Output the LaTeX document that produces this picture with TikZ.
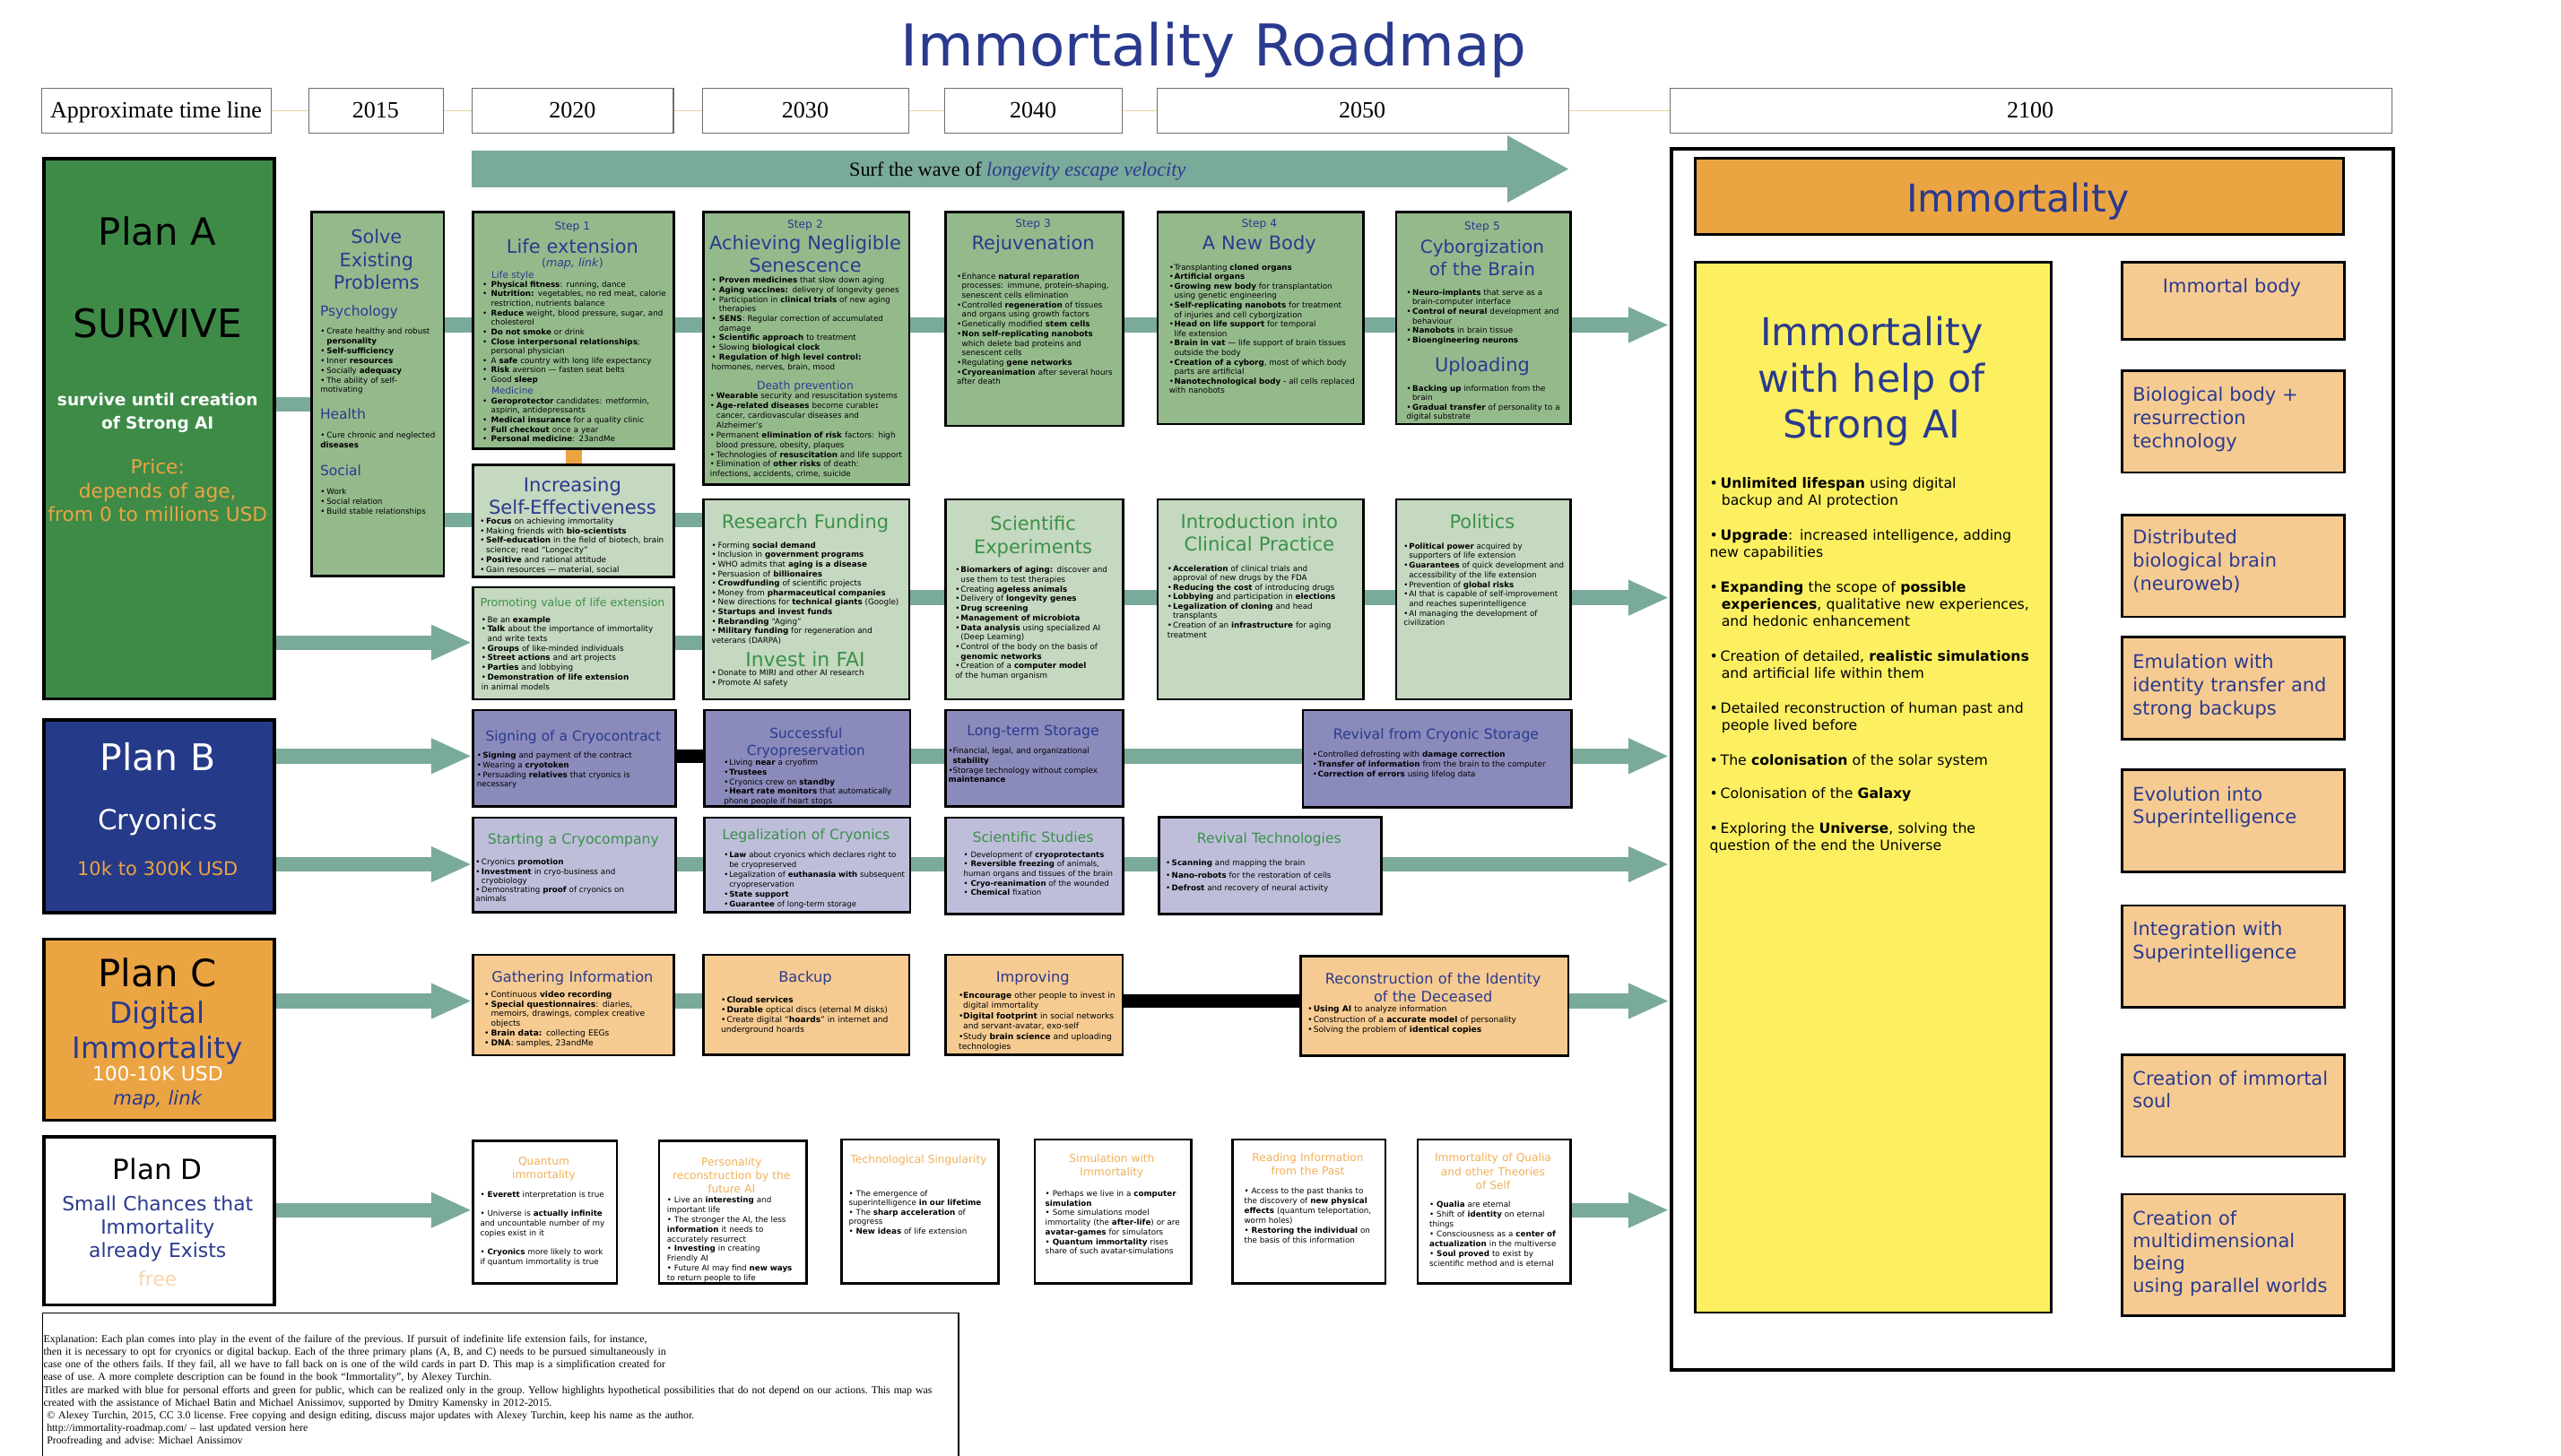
\documentclass[tikz,border=0pt]{standalone}
\usepackage{fontspec}
\setmainfont{DejaVu Sans}
\newfontfamily\timesf{Liberation Serif}
\usetikzlibrary{arrows.meta,backgrounds}
\definecolor{bluet}{RGB}{42,58,142}
\definecolor{greent}{RGB}{58,145,72}
\definecolor{planA}{RGB}{62,139,72}
\definecolor{midg}{RGB}{148,186,140}
\definecolor{lightg}{RGB}{197,216,192}
\definecolor{tealc}{RGB}{122,170,154}
\definecolor{orng}{RGB}{235,164,66}
\definecolor{planB}{RGB}{38,58,138}
\definecolor{purp1}{RGB}{138,138,187}
\definecolor{purp2}{RGB}{190,190,219}
\definecolor{peach}{RGB}{246,203,146}
\definecolor{yell}{RGB}{252,240,96}
\definecolor{orT}{RGB}{240,176,88}
\definecolor{freec}{RGB}{248,214,170}
\definecolor{tanl}{RGB}{232,212,164}
\definecolor{tlgray}{RGB}{110,110,110}
\newcommand\fsz[2]{\fontsize{#1}{#2}\selectfont}
\newcommand\nln{\newline}
\newcommand\bulg{\textbullet}
\newcommand\bwf{1.05}
\newcommand\bfirst{\noindent\hangindent=\bwf em\hangafter=1\makebox[\bwf em][l]{\bulg}}
\newcommand\bitem{\par\noindent\hangindent=\bwf em\hangafter=1\makebox[\bwf em][l]{\bulg}}
\newcommand\ybul{\makebox[0.78em][l]{\textbullet}}
\newcommand\yind{\hspace*{0.85em}}
\newcommand\mkbox[7][]{\node[box,fill=#3,anchor=north west,minimum width={#6-#4},minimum height={#7-#5},#1] (#2) at (#4,#5) {};}
\newcommand\txn[5][]{\node[anchor=base west,inner sep=0,text width=#4pt,align=left,font=\fsz{4.8}{5.87},#1] (#2) at (#3) {#5};}
\newcommand\ctn[5][]{\node[anchor=base,inner sep=0,text width=#4pt,align=center,#1] (#2) at (#3) {#5};}
\tikzset{
 box/.style={draw=black,line width=1.5pt,inner sep=0},
 conn/.style={draw=tealc,line width=9pt},
 arr/.style={conn,-{Triangle[length=25pt,width=20pt]}},
 blk/.style={draw=black,line width=8.5pt},
 tlbox/.style={draw=tlgray,line width=0.6pt,fill=white,inner sep=0,anchor=north west,minimum height=27},
 tltext/.style={anchor=base,inner sep=0,font=\timesf\fsz{14.3}{16}},
}
\begin{document}
\begin{tikzpicture}[x=1pt,y=-1pt]
\useasboundingbox (0,0) rectangle (1568,891.6);
% title
\node[anchor=base,inner sep=0,font=\fsz{35.3}{40},text=bluet] (title) at (743,40.5) {Immortality Roadmap};
% timeline
\node[tlbox,minimum width=141] (tl0) at (25,54) {};
\node[tlbox,minimum width=82] (t15) at (189,54) {};
\node[tlbox,minimum width=123] (t20) at (289,54) {};
\node[tlbox,minimum width=126] (t30) at (430,54) {};
\node[tlbox,minimum width=109] (t40) at (578,54) {};
\node[tlbox,minimum width=252] (t50) at (708,54) {};
\node[tlbox,minimum width=442] (t2100) at (1022,54) {};
\node[tltext] (tl0t) at (95.5,72.2) {Approximate time line};
\node[tltext] (t15t) at (230,72.2) {2015};
\node[tltext] (t20t) at (350.5,72.2) {2020};
\node[tltext] (t30t) at (493,72.2) {2030};
\node[tltext] (t40t) at (632.5,72.2) {2040};
\node[tltext] (t50t) at (834,72.2) {2050};
\node[tltext] (t2100t) at (1243,72.2) {2100};
% surf arrow
\coordinate (surfA) at (289,103.5);
\coordinate (surfB) at (961,103.5);
\draw[tealc,line width=22pt,-{Triangle[length=38pt,width=38pt]}] (surfA) -- (surfB);
\node[anchor=base,inner sep=0,font=\timesf\fsz{12.2}{14}] (surft) at (623,108) {Surf the wave of \textcolor{bluet}{\itshape longevity escape velocity}};

% ================= PLAN A
\mkbox[line width=2pt]{pA}{planA}{26}{96}{167}{427}
\ctn[font=\fsz{23}{26}]{pA1}{96.5,150.3}{140}{Plan A}
\ctn[font=\fsz{24}{28}]{pA2}{96.5,206.7}{140}{SURVIVE}
\ctn[font=\bfseries\fsz{10.2}{14},text=white]{pA3}{96.5,248.7}{140}{survive until creation\\of Strong AI}
\ctn[font=\fsz{11.9}{14.5},text=orng]{pA4}{96.5,290.3}{140}{Price:\\depends of age,\\from 0 to millions USD}

\mkbox{solve}{midg}{190}{129}{271}{352}
\ctn[font=\fsz{11.4}{14},text=bluet]{solveT}{230.5,149.1}{80}{Solve\\Existing\\Problems}
\txn[font=\fsz{8.5}{10},text=bluet]{psyT}{195.8,193.7}{75}{Psychology}
\txn[font=\fsz{4.8}{5.96}]{psyB}{196,204.7}{76}{\def\bwf{0.8}\bfirst Create healthy and robust\nln\textbf{personality}\bitem\textbf{Self-sufficiency}\bitem Inner \textbf{resources}\bitem Socially \textbf{adequacy}\bitem The ability of self-\nln motivating}
\txn[font=\fsz{8.5}{10},text=bluet]{hlT}{195.8,256.9}{75}{Health}
\txn[font=\fsz{4.8}{5.96}]{hlB}{196,268.4}{76}{\def\bwf{0.8}\bfirst Cure chronic and neglected\nln\textbf{diseases}}
\txn[font=\fsz{8.5}{10},text=bluet]{soT}{195.8,291.1}{75}{Social}
\txn[font=\fsz{4.8}{6.05}]{soB}{196,302.6}{76}{\def\bwf{0.8}\bfirst Work\bitem Social relation\bitem Build stable relationships}

\mkbox{s1}{midg}{289}{129}{412}{274}
\ctn[font=\fsz{6.7}{8},text=bluet]{s1a}{350.5,140.6}{120}{Step 1}
\ctn[font=\fsz{11.5}{13},text=bluet]{s1b}{350.5,155.1}{120}{Life extension}
\ctn[font=\fsz{6.9}{8},text=bluet]{s1c}{350.5,163.3}{120}{(\textit{map, link})}
\txn[font=\fsz{5.75}{7},text=bluet]{s1d}{300.7,170.3}{100}{Life style}
\txn[font=\fsz{4.8}{5.84}]{s1e}{295.2,175.8}{118}{\def\bwf{1.1}\bfirst\textbf{Physical fitness}: running, dance\bitem\textbf{Nutrition:} vegetables, no red meat, calorie\nln restriction, nutrients balance\bitem\textbf{Reduce} weight, blood pressure, sugar, and\nln cholesterol\bitem\textbf{Do not smoke} or drink\bitem\textbf{Close interpersonal relationships};\nln personal physician\bitem A \textbf{safe} country with long life expectancy\bitem\textbf{Risk} aversion — fasten seat belts\bitem Good \textbf{sleep}}
\txn[font=\fsz{5.75}{7},text=bluet]{s1f}{300.7,241.3}{100}{Medicine}
\txn[font=\fsz{4.8}{5.84}]{s1g}{295.2,247.2}{118}{\def\bwf{1.1}\bfirst\textbf{Geroprotector} candidates: metformin,\nln aspirin, antidepressants\bitem\textbf{Medical insurance} for a quality clinic\bitem\textbf{Full checkout} once a year\bitem\textbf{Personal medicine}: 23andMe}

\mkbox{ise}{lightg}{289}{284}{412}{352.5}
\ctn[font=\fsz{11.6}{13.8},text=bluet]{iseT}{350.5,301.2}{120}{Increasing\\Self-Effectiveness}
\txn[font=\fsz{4.85}{5.88}]{iseB}{293.7,320.9}{120}{\def\bwf{0.76}\bfirst\textbf{Focus} on achieving immortality\bitem Making friends with \textbf{bio-scientists}\bitem\textbf{Self-education} in the field of biotech, brain\nln science; read “Longecity”\bitem\textbf{Positive} and rational attitude\bitem Gain resources — material, social}

\mkbox{prom}{lightg}{289}{358.8}{412}{427.5}
\ctn[font=\fsz{6.83}{8},text=greent]{promT}{350.5,371.5}{122}{Promoting value of life extension}
\txn[font=\fsz{4.85}{5.88}]{promB}{294.6,381.1}{118}{\def\bwf{0.75}\bfirst Be an \textbf{example}\bitem\textbf{Talk} about the importance of immortality\nln and write texts\bitem\textbf{Groups} of like-minded individuals\bitem\textbf{Street actions} and art projects\bitem\textbf{Parties} and lobbying\bitem\textbf{Demonstration of life extension}\nln in animal models}

\mkbox{s2}{midg}{430}{129}{556}{296}
\ctn[font=\fsz{6.7}{8},text=bluet]{s2a}{493,139.7}{124}{Step 2}
\ctn[font=\fsz{11.5}{13.7},text=bluet]{s2b}{493,153.1}{124}{Achieving Negligible\\Senescence}
\txn[font=\fsz{4.8}{5.88}]{s2c}{435.5,173.3}{120}{\def\bwf{0.95}\bfirst\textbf{Proven medicines} that slow down aging\bitem\textbf{Aging vaccines:} delivery of longevity genes\bitem Participation in \textbf{clinical trials} of new aging\nln therapies\bitem\textbf{SENS}: Regular correction of accumulated\nln damage\bitem\textbf{Scientific approach} to treatment\bitem Slowing \textbf{biological clock}\bitem\textbf{Regulation of high level control:}\nln hormones, nerves, brain, mood}
\ctn[font=\fsz{6.75}{8},text=bluet]{s2d}{493,238.7}{124}{Death prevention}
\txn[font=\fsz{4.8}{5.96}]{s2e}{434.6,244.3}{122}{\def\bwf{0.8}\bfirst\textbf{Wearable} security and resuscitation systems\bitem\textbf{Age-related diseases} become curable\textbf{:}\nln cancer, cardiovascular diseases and\nln Alzheimer’s\bitem Permanent \textbf{elimination of risk} factors: high\nln blood pressure, obesity, plaques\bitem Technologies of \textbf{resuscitation} and life support\bitem Elimination of \textbf{other risks} of death:\nln infections, accidents, crime, suicide}

\mkbox{rf}{lightg}{430}{305}{556}{427.5}
\ctn[font=\fsz{11.5}{13},text=greent]{rfT}{493,323.8}{124}{Research Funding}
\txn[font=\fsz{4.8}{5.84}]{rfB}{435.5,335.5}{120}{\def\bwf{0.8}\bfirst Forming \textbf{social demand}\bitem Inclusion in \textbf{government programs}\bitem WHO admits that \textbf{aging is a disease}\bitem Persuasion of \textbf{billionaires}\bitem\textbf{Crowdfunding} of scientific projects\bitem Money from \textbf{pharmaceutical companies}\bitem New directions for \textbf{technical giants} (Google)\bitem\textbf{Startups and invest funds}\bitem\textbf{Rebranding} “Aging”\bitem\textbf{Military funding} for regeneration and\nln veterans (DARPA)}
\ctn[font=\fsz{12}{13},text=greent]{rfI}{493,408.3}{124}{Invest in FAI}
\txn[font=\fsz{4.8}{5.84}]{rfJ}{435.5,413.9}{120}{\def\bwf{0.8}\bfirst Donate to MIRI and other AI research\bitem Promote AI safety}

\mkbox{s3}{midg}{578}{129}{687}{260}
\ctn[font=\fsz{6.7}{8},text=bluet]{s3a}{632.5,139.3}{108}{Step 3}
\ctn[font=\fsz{11.5}{13},text=bluet]{s3b}{632.5,153.1}{108}{Rejuvenation}
\txn[font=\fsz{4.8}{5.88}]{s3c}{585.6,170.8}{104}{\def\bwf{0.65}\bfirst Enhance \textbf{natural reparation}\nln processes: immune, protein-shaping,\nln senescent cells elimination\bitem Controlled \textbf{regeneration} of tissues\nln and organs using growth factors\bitem Genetically modified \textbf{stem cells}\bitem\textbf{Non self-replicating nanobots}\nln which delete bad proteins and\nln senescent cells\bitem Regulating \textbf{gene networks}\bitem\textbf{Cryoreanimation} after several hours\nln after death}

\mkbox{s4}{midg}{708}{129}{834}{259}
\ctn[font=\fsz{6.7}{8},text=bluet]{s4a}{771,139.3}{124}{Step 4}
\ctn[font=\fsz{11.5}{13},text=bluet]{s4b}{771,153.1}{124}{A New Body}
\txn[font=\fsz{4.8}{5.82}]{s4c}{715.6,165.3}{120}{\def\bwf{0.67}\bfirst Transplanting \textbf{cloned organs}\bitem\textbf{Artificial organs}\bitem\textbf{Growing new body} for transplantation\nln using genetic engineering\bitem\textbf{Self-replicating nanobots} for treatment\nln of injuries and cell cyborgization\bitem\textbf{Head on life support} for temporal\nln life extension\bitem\textbf{Brain in vat} — life support of brain tissues\nln outside the body\bitem\textbf{Creation of a cyborg}, most of which body\nln parts are artificial\bitem\textbf{Nanotechnological body} - all cells replaced\nln with nanobots}

\mkbox{se}{lightg}{578}{305}{687}{427.5}
\ctn[font=\fsz{11.5}{14.4},text=greent]{seT}{632.5,324.7}{108}{Scientific\\Experiments}
\txn[font=\fsz{4.8}{5.88}]{seB}{584.7,350.7}{104}{\def\bwf{0.7}\bfirst\textbf{Biomarkers of aging:} discover and\nln use them to test therapies\bitem Creating \textbf{ageless animals}\bitem Delivery of \textbf{longevity genes}\bitem\textbf{Drug screening}\bitem\textbf{Management of microbiota}\bitem\textbf{Data analysis} using specialized AI\nln (Deep Learning)\bitem Control of the body on the basis of\nln\textbf{genomic networks}\bitem Creation of a \textbf{computer model}\nln of the human organism}

\mkbox{ic}{lightg}{708}{305}{834}{427.5}
\ctn[font=\fsz{11.6}{13.8},text=greent]{icT}{771,323.8}{124}{Introduction into\\Clinical Practice}
\txn[font=\fsz{4.8}{5.8}]{icB}{714.6,349.8}{120}{\def\bwf{0.7}\bfirst\textbf{Acceleration} of clinical trials and\nln approval of new drugs by the FDA\bitem\textbf{Reducing the cost} of introducing drugs\bitem\textbf{Lobbying} and participation in \textbf{elections}\bitem\textbf{Legalization of cloning} and head\nln transplants\bitem Creation of an \textbf{infrastructure} for aging\nln treatment}

\mkbox{s5}{midg}{854}{129}{961}{259}
\ctn[font=\fsz{6.7}{8},text=bluet]{s5a}{907.5,141}{106}{Step 5}
\ctn[font=\fsz{11}{14},text=bluet]{s5b}{907.5,155}{106}{Cyborgization\\of the Brain}
\txn[font=\fsz{4.8}{5.84}]{s5c}{861,180.7}{100}{\def\bwf{0.75}\bfirst\textbf{Neuro-implants} that serve as a\nln brain-computer interface\bitem\textbf{Control of neural} development and\nln behaviour\bitem\textbf{Nanobots} in brain tissue\bitem\textbf{Bioengineering neurons}}
\ctn[font=\fsz{11.5}{13},text=bluet]{s5d}{907.5,227.6}{106}{Uploading}
\txn[font=\fsz{4.8}{5.84}]{s5e}{861,239.4}{100}{\def\bwf{0.75}\bfirst\textbf{Backing up} information from the\nln brain\bitem\textbf{Gradual transfer} of personality to a\nln digital substrate}

\mkbox{pol}{lightg}{854}{305}{961}{427.5}
\ctn[font=\fsz{11.5}{13},text=greent]{polT}{907.5,323.7}{106}{Politics}
\txn[font=\fsz{4.75}{5.88}]{polB}{859.2,336.1}{102}{\def\bwf{0.7}\bfirst\textbf{Political power} acquired by\nln supporters of life extension\bitem\textbf{Guarantees} of quick development and\nln accessibility of the life extension\bitem Prevention of \textbf{global risks}\bitem AI that is capable of self-improvement\nln and reaches superintelligence\bitem AI managing the development of\nln civilization}

% ================= PLAN B
\mkbox[line width=2pt]{pB}{planB}{26}{440}{167}{558}
\ctn[font=\fsz{22.5}{26},text=white]{pB1}{96.5,472}{140}{Plan B}
\ctn[font=\fsz{17}{20},text=white]{pB2}{96.5,508.2}{140}{Cryonics}
\ctn[font=\fsz{11.5}{14},text=orng]{pB3}{96.5,536.2}{140}{10k to 300K USD}

\mkbox{sig}{purp1}{289}{434}{413}{493}
\ctn[font=\fsz{8.4}{10.6},text=bluet]{sigT}{351,454}{124}{Signing of a Cryocontract}
\txn[font=\fsz{4.8}{5.86}]{sigB}{291.8,464.3}{120}{\def\bwf{0.75}\bfirst\textbf{Signing} and payment of the contract\bitem Wearing a \textbf{cryotoken}\bitem Persuading \textbf{relatives} that cryonics is\nln necessary}

\mkbox{suc}{purp1}{430.5}{434}{556.5}{493}
\ctn[font=\fsz{8.4}{10.6},text=bluet]{sucT}{493.5,452}{124}{Successful\\Cryopreservation}
\txn[font=\fsz{4.8}{5.86}]{sucB}{443,468.7}{112}{\def\bwf{0.7}\bfirst Living \textbf{near} a cryofirm\bitem\textbf{Trustees}\bitem Cryonics crew on \textbf{standby}\bitem\textbf{Heart rate monitors} that automatically\nln phone people if heart stops}

\mkbox{lts}{purp1}{578}{434}{687}{493}
\ctn[font=\fsz{8.6}{10.6},text=bluet]{ltsT}{632.5,450.6}{108}{Long-term Storage}
\txn[font=\fsz{4.8}{5.8}]{ltsB}{580.5,461.7}{106}{\def\bwf{0.55}\bfirst Financial, legal, and organizational\nln\textbf{stability}\bitem Storage technology without complex\nln\textbf{maintenance}}

\mkbox{rcs}{purp1}{797}{434}{961.5}{493.6}
\ctn[font=\fsz{8.6}{10.6},text=bluet]{rcsT}{879.25,452.9}{160}{Revival from Cryonic Storage}
\txn[font=\fsz{4.8}{5.95}]{rcsB}{803.5,463.8}{155}{\def\bwf{0.65}\bfirst Controlled defrosting with \textbf{damage correction}\bitem\textbf{Transfer of information} from the brain to the computer\bitem\textbf{Correction of errors} using lifelog data}

\mkbox{stc}{purp2}{289}{500}{413}{558}
\ctn[font=\fsz{8.6}{10.6},text=greent]{stcT}{351,517.1}{124}{Starting a Cryocompany}
\txn[font=\fsz{4.8}{5.63}]{stcB}{291,529.7}{120}{\def\bwf{0.75}\bfirst Cryonics \textbf{promotion}\bitem\textbf{Investment} in cryo-business and\nln cryobiology\bitem Demonstrating \textbf{proof} of cryonics on\nln animals}

\mkbox{leg}{purp2}{430.5}{500}{556.5}{558}
\ctn[font=\fsz{8.6}{10.6},text=greent]{legT}{493.5,514.1}{124}{Legalization of Cryonics}
\txn[font=\fsz{4.7}{6.0}]{legB}{443,525.1}{112}{\def\bwf{0.7}\bfirst\textbf{Law} about cryonics which declares right to\nln be cryopreserved\bitem Legalization of \textbf{euthanasia with} subsequent\nln cryopreservation\bitem\textbf{State support}\bitem\textbf{Guarantee} of long-term storage}

\mkbox{ss}{purp2}{578}{500}{687}{559}
\ctn[font=\fsz{8.6}{10.6},text=greent]{ssT}{632.5,515.6}{108}{Scientific Studies}
\txn[font=\fsz{4.7}{5.86}]{ssB}{589.8,524.9}{96}{\textbullet\ Development of \textbf{cryoprotectants}\\\textbullet\ \textbf{Reversible freezing} of animals,\\human organs and tissues of the brain\\\textbullet\ \textbf{Cryo-reanimation} of the wounded\\\textbullet\ \textbf{Chemical} fixation}

\mkbox{rt}{purp2}{709}{499.6}{845}{559}
\ctn[font=\fsz{8.5}{10.6},text=greent]{rtT}{777,516.4}{134}{Revival Technologies}
\txn[font=\fsz{4.8}{7.6}]{rtB}{713.6,530.2}{130}{\def\bwf{0.75}\bfirst\textbf{Scanning} and mapping the brain\bitem\textbf{Nano-robots} for the restoration of cells\bitem\textbf{Defrost} and recovery of neural activity}

% ================= PLAN C
\mkbox[line width=2pt]{pC}{orng}{26}{574}{167}{685}
\ctn[font=\fsz{23}{26}]{pC1}{96.5,604.3}{140}{Plan C}
\ctn[font=\fsz{18}{21.4},text=bluet]{pC2}{96.5,626.8}{140}{Digital\\Immortality}
\ctn[font=\fsz{12}{14},text=white]{pC3}{96.5,661.8}{140}{100-10K USD}
\ctn[font=\itshape\fsz{11.7}{14},text=bluet]{pC4}{96.5,676.6}{140}{map, link}

\mkbox{gi}{peach}{289}{584}{412}{645.5}
\ctn[font=\fsz{8.9}{10.6},text=bluet]{giT}{350.5,601.2}{122}{Gathering Information}
\txn[font=\fsz{5}{5.96}]{giB}{296.4,610.6}{115}{\def\bwf{0.8}\bfirst Continuous \textbf{video recording}\bitem\textbf{Special questionnaires}: diaries,\nln memoirs, drawings, complex creative\nln objects\bitem\textbf{Brain data:} collecting EEGs\bitem\textbf{DNA}: samples, 23andMe}

\mkbox{bk}{peach}{430}{584}{556}{645}
\ctn[font=\fsz{8.9}{10.6},text=bluet]{bkT}{493,601.2}{124}{Backup}
\txn[font=\fsz{5}{6.04}]{bkB}{441.3,613.8}{112}{\def\bwf{0.7}\bfirst\textbf{Cloud services}\bitem\textbf{Durable} optical discs (eternal M disks)\bitem Create digital “\textbf{hoards}” in internet and\nln underground hoards}

\mkbox{imp}{peach}{578}{584}{686.6}{645}
\ctn[font=\fsz{8.9}{10.6},text=bluet]{impT}{632.3,601.2}{108}{Improving}
\txn[font=\fsz{5}{6.23}]{impB}{586.8,611.4}{100}{\def\bwf{0.55}\bfirst\textbf{Encourage} other people to invest in\nln digital immortality\bitem\textbf{Digital footprint} in social networks\nln and servant-avatar, exo-self\bitem Study \textbf{brain science} and uploading\nln technologies}

\mkbox{rec}{peach}{795.4}{584.7}{959.4}{645.6}
\ctn[font=\fsz{8.85}{11.1},text=bluet]{recT}{877.4,602.5}{160}{Reconstruction of the Identity\\of the Deceased}
\txn[font=\fsz{5}{6.33}]{recB}{800.5,619.8}{155}{\def\bwf{0.7}\bfirst\textbf{Using AI} to analyze information\bitem Construction of a \textbf{accurate model} of personality\bitem Solving the problem of \textbf{identical copies}}

% ================= PLAN D
\mkbox[line width=2pt]{pD}{white}{26}{695}{167}{798}
\ctn[font=\fsz{17}{20}]{pD1}{96.5,722.3}{140}{Plan D}
\ctn[font=\fsz{12}{14.2},text=bluet]{pD2}{96.5,741.5}{140}{Small Chances that\\Immortality\\already Exists}
\ctn[font=\fsz{12}{14},text=freec]{pD3}{96.5,787.3}{140}{free}

\mkbox{qi}{white}{289}{698}{377}{785}
\ctn[font=\fsz{6.7}{8.3},text=orT]{qiT}{333,713.4}{86}{Quantum\\immortality}
\txn[font=\fsz{4.8}{5.85}]{qiB}{293.8,733.3}{84}{\textbullet\ \textbf{Everett} interpretation is true\\[5.85pt]\textbullet\ Universe is \textbf{actually infinite}\\and uncountable number of my\\copies exist in it\\[5.85pt]\textbullet\ \textbf{Cryonics} more likely to work\\if quantum immortality is true}

\mkbox{pr}{white}{402.8}{698}{493}{785}
\ctn[font=\fsz{6.7}{8.35},text=orT]{prT}{447.9,713.9}{88}{Personality\\reconstruction by the\\future AI}
\txn[font=\fsz{4.8}{5.96}]{prB}{408.2,736.6}{84}{\textbullet\ Live an \textbf{interesting} and\\important life\\\textbullet\ The stronger the AI, the less\\\textbf{information} it needs to\\accurately resurrect\\\textbullet\ \textbf{Investing} in creating\\Friendly AI\\\textbullet\ Future AI may find \textbf{new ways}\\to return people to life}

\mkbox{ts}{white}{514.5}{697}{610.5}{785}
\ctn[font=\fsz{6.7}{8.4},text=orT]{tsT}{562.5,712.2}{94}{Technological Singularity}
\txn[font=\fsz{4.8}{5.77}]{tsB}{519.5,732.6}{90}{\textbullet\ The emergence of\\superintelligence \textbf{in our lifetime}\\\textbullet\ The \textbf{sharp acceleration} of\\progress\\\textbullet\ \textbf{New ideas} of life extension}

\mkbox{sim}{white}{632.8}{697}{728.7}{785}
\ctn[font=\fsz{6.7}{8.4},text=orT]{simT}{680.75,711.9}{94}{Simulation with\\Immortality}
\txn[font=\fsz{4.8}{5.9}]{simB}{639.8,732.6}{88}{\textbullet\ Perhaps we live in a \textbf{computer}\\\textbf{simulation}\\\textbullet\ Some simulations model\\immortality (the \textbf{after-life}) or are\\\textbf{avatar-games} for simulators\\\textbullet\ \textbf{Quantum immortality} rises\\share of such avatar-simulations}

\mkbox{rd}{white}{754}{697}{847.5}{785}
\ctn[font=\fsz{6.7}{8.2},text=orT]{rdT}{800.75,711.4}{92}{Reading Information\\from the Past}
\txn[font=\fsz{4.8}{5.96}]{rdB}{761.6,731.2}{86}{\textbullet\ Access to the past thanks to\\the discovery of \textbf{new physical}\\\textbf{effects} (quantum teleportation,\\worm holes)\\\textbullet\ \textbf{Restoring the individual} on\\the basis of this information}

\mkbox{ql}{white}{867.3}{697}{960.9}{785}
\ctn[font=\fsz{6.7}{8.5},text=orT]{qlT}{914.1,711.4}{92}{Immortality of Qualia\\and other Theories\\of Self}
\txn[font=\fsz{4.8}{6.0}]{qlB}{875,739.4}{84}{\textbullet\ \textbf{Qualia} are eternal\\\textbullet\ Shift of \textbf{identity} on eternal\\things\\\textbullet\ Consciousness as a \textbf{center of}\\\textbf{actualization} in the multiverse\\\textbullet\ \textbf{Soul proved} to exist by\\scientific method and is eternal}

% ================= IMMORTALITY
\mkbox[line width=2.2pt]{imm}{white}{1022}{90}{1464}{838}
\mkbox{immT}{orng}{1037}{96}{1434}{143}
\ctn[font=\fsz{23.5}{26},text=bluet]{immTt}{1235.5,130}{390}{Immortality}
\mkbox{yel}{yell}{1037}{160}{1255}{803}
\ctn[font=\fsz{23.5}{28.3},text=bluet]{yelT}{1146,211.8}{215}{Immortality\\with help of\\Strong AI}
\txn[font=\fsz{8.6}{10.6}]{yelB}{1046.5,298.9}{205}{\ybul\textbf{Unlimited lifespan} using digital\\
\yind backup and AI protection\\[10.6pt]
\ybul\textbf{Upgrade}: increased intelligence, adding\\
new capabilities\\[10.6pt]
\ybul\textbf{Expanding} the scope of \textbf{possible}\\
\yind\textbf{experiences}, qualitative new experiences,\\
\yind and hedonic enhancement\\[10.6pt]
\ybul Creation of detailed, \textbf{realistic simulations}\\
\yind and artificial life within them\\[10.6pt]
\ybul Detailed reconstruction of human past and\\
\yind people lived before\\[10.6pt]
\ybul The \textbf{colonisation} of the solar system\\[10pt]
\ybul Colonisation of the \textbf{Galaxy}\\[10.6pt]
\ybul Exploring the \textbf{Universe}, solving the\\
question of the end the Universe}

\mkbox{rb1}{peach}{1298.5}{159.9}{1434.5}{207}
\mkbox{rb2}{peach}{1298.5}{226.2}{1434.5}{288.6}
\mkbox{rb3}{peach}{1298.5}{314.6}{1434.5}{377}
\mkbox{rb4}{peach}{1298.5}{389.5}{1434.5}{452}
\mkbox{rb5}{peach}{1298.5}{470.7}{1434.5}{533}
\mkbox{rb6}{peach}{1298.5}{553.8}{1434.5}{616.2}
\mkbox{rb7}{peach}{1298.5}{645}{1434.5}{707.5}
\mkbox{rb8}{peach}{1298.5}{730.5}{1434.5}{805}
\ctn[font=\fsz{11.5}{14.3},text=bluet]{rb1t}{1366.5,179.4}{134}{Immortal body}
\txn[font=\fsz{11.5}{14.3},text=bluet]{rb2t}{1305.6,245.7}{130}{Biological body +\\resurrection\\technology}
\txn[font=\fsz{11.5}{14.2},text=bluet]{rb3t}{1305.6,333.1}{130}{Distributed\\biological brain\\(neuroweb)}
\txn[font=\fsz{11.5}{14.2},text=bluet]{rb4t}{1305.6,409.4}{130}{Emulation with\\identity transfer and\\strong backups}
\txn[font=\fsz{11.5}{13.6},text=bluet]{rb5t}{1305.6,490.7}{130}{Evolution into\\Superintelligence}
\txn[font=\fsz{11.5}{14},text=bluet]{rb6t}{1305.6,573.1}{130}{Integration with\\Superintelligence}
\txn[font=\fsz{11.5}{13.8},text=bluet]{rb7t}{1305.6,664.6}{130}{Creation of immortal\\soul}
\txn[font=\fsz{11.5}{13.8},text=bluet]{rb8t}{1305.6,750}{130}{Creation of\\multidimensional\\being\\using parallel worlds}

% ================= EXPLANATION
\draw[line width=0.8pt] (26,892) -- (26,804) -- (587,804) -- (587,892);
\txn[font=\timesf\fsz{6.5}{7.8}\frenchspacing]{expl}{26.5,822}{600}{Explanation: Each plan comes into play in the event of the failure of the previous. If pursuit of indefinite life extension fails, for instance,\\
then it is necessary to opt for cryonics or digital backup. Each of the three primary plans (A, B, and C) needs to be pursued simultaneously in\\
case one of the others fails. If they fail, all we have to fall back on is one of the wild cards in part D. This map is a simplification created for\\
ease of use. A more complete description can be found in the book “Immortality”, by Alexey Turchin.\\
Titles are marked with blue for personal efforts and green for public, which can be realized only in the group. Yellow highlights hypothetical possibilities that do not depend on our actions. This map was\\
created with the assistance of Michael Batin and Michael Anissimov, supported by Dmitry Kamensky in 2012-2015.\\
\hspace*{2pt}© Alexey Turchin, 2015, CC 3.0 license. Free copying and design editing, discuss major updates with Alexey Turchin, keep his name as the author.\\
\hspace*{2pt}http://immortality-roadmap.com/ – last updated version here\\
\hspace*{2pt}Proofreading and advise: Michael Anissimov}

% ================= CONNECTORS
\coordinate (ya0) at (0,247.5);
\coordinate (ya1) at (0,199);
\coordinate (ya2) at (0,318.5);
\coordinate (ya3) at (0,393.5);
\coordinate (ya4) at (0,366);
\coordinate (yb1) at (0,463);
\coordinate (yb2) at (0,529.3);
\coordinate (yc1) at (0,613);
\coordinate (yd1) at (0,741);
\begin{pgfonlayer}{background}
\draw[tanl,line width=0.8pt] (tl0.east) -- (t2100.west);
\draw[conn] (pA.east |- ya0) -- (solve.west |- ya0);
\draw[conn] (solve.east |- ya1) -- (s1.west |- ya1);
\draw[conn] (s1.east |- ya1) -- (s2.west |- ya1);
\draw[conn] (s2.east |- ya1) -- (s3.west |- ya1);
\draw[conn] (s3.east |- ya1) -- (s4.west |- ya1);
\draw[conn] (s4.east |- ya1) -- (s5.west |- ya1);
\draw[arr] (s5.east |- ya1) -- (imm.west |- ya1);
\draw[conn] (solve.east |- ya2) -- (ise.west |- ya2);
\draw[conn] (ise.east |- ya2) -- (rf.west |- ya2);
\draw[arr] (pA.east |- ya3) -- (prom.west |- ya3);
\draw[conn] (prom.east |- ya3) -- (rf.west |- ya3);
\draw[conn] (rf.east |- ya4) -- (se.west |- ya4);
\draw[conn] (se.east |- ya4) -- (ic.west |- ya4);
\draw[conn] (ic.east |- ya4) -- (pol.west |- ya4);
\draw[arr] (pol.east |- ya4) -- (imm.west |- ya4);
\draw[orng,line width=10pt] (s1.south) -- (ise.north);
\draw[arr] (pB.east |- yb1) -- (sig.west |- yb1);
\draw[blk] (sig.east |- yb1) -- (suc.west |- yb1);
\draw[conn] (suc.east |- yb1) -- (lts.west |- yb1);
\draw[conn] (lts.east |- yb1) -- (rcs.west |- yb1);
\draw[arr] (rcs.east |- yb1) -- (imm.west |- yb1);
\draw[arr] (pB.east |- yb2) -- (stc.west |- yb2);
\draw[conn] (stc.east |- yb2) -- (leg.west |- yb2);
\draw[conn] (leg.east |- yb2) -- (ss.west |- yb2);
\draw[conn] (ss.east |- yb2) -- (rt.west |- yb2);
\draw[arr] (rt.east |- yb2) -- (imm.west |- yb2);
\draw[arr] (pC.east |- yc1) -- (gi.west |- yc1);
\draw[conn] (gi.east |- yc1) -- (bk.west |- yc1);
\draw[blk] (imp.east |- yc1) -- (rec.west |- yc1);
\draw[arr] (rec.east |- yc1) -- (imm.west |- yc1);
\draw[arr] (pD.east |- yd1) -- (qi.west |- yd1);
\draw[arr] (ql.east |- yd1) -- (imm.west |- yd1);
\end{pgfonlayer}
\end{tikzpicture}
\end{document}
